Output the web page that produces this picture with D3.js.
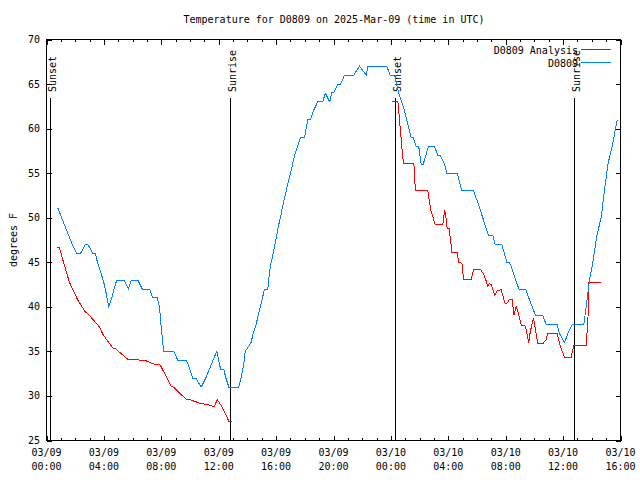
<!DOCTYPE html>
<html>
<head>
<meta charset="utf-8">
<script src="https://cdn.jsdelivr.net/npm/d3@7"></script>
<style>
  html, body { margin: 0; padding: 0; background: #fff; }
  svg { display: block; }
  text { font-family: "DejaVu Sans Mono", "Liberation Mono", monospace; font-size: 10px; fill: #000; }
</style>
</head>
<body>
<svg id="chart" width="640" height="480"></svg>
<script>
// ---- data (hours since 2025-03-09 00:00 UTC) ----
const titleText = "Temperature for D0809 on 2025-Mar-09 (time in UTC)";
const yLabel = "degrees F";
const seriesNames = ["D0809 Analysis", "D0809"];
const yTicks = [25, 30, 35, 40, 45, 50, 55, 60, 65, 70];

const obsHours = [0.72,0.82,1.05,1.3,1.55,1.8,2.1,2.37,2.72,2.88,3.23,3.4,3.55,3.75,3.95,4.1,4.22,4.34,4.55,4.7,4.9,5.39,5.71,5.9,6.36,6.67,7.18,7.41,7.71,7.87,7.98,8.1,8.18,8.87,9.15,9.76,9.98,10.2,10.4,10.78,11.1,11.35,11.6,11.87,12.13,12.35,12.5,12.71,13.4,13.55,13.68,13.78,13.85,14.26,14.4,14.6,14.75,14.9,15.05,15.19,15.42,15.55,15.66,15.8,15.92,16.05,16.15,16.3,16.42,16.55,16.7,16.85,17.0,17.15,17.28,17.5,17.7,17.98,18.21,18.4,18.6,18.9,19.26,19.42,19.74,19.88,20.0,20.3,20.5,20.77,21.41,21.81,22.28,22.39,23.71,23.95,24.25,24.4,24.55,24.75,24.95,25.1,25.25,25.41,25.55,25.76,25.94,26.11,26.25,26.62,27.04,27.27,27.45,27.74,27.9,28.62,28.94,29.76,29.99,30.2,30.4,30.6,30.8,31.1,31.27,31.73,32.08,32.26,32.5,32.7,32.92,33.38,33.61,33.85,34.08,34.59,34.82,35.59,35.75,36.1,36.33,36.63,37.44,37.61,37.84,38.07,38.35,38.65,38.88,39.12,39.42,39.77];
const obsTemps = [51,51,50,49,48,47,46,46,47,47,46,46,45,44,43,42,41,40,41,42,43,43,42,43,43,42,42,41,41,40,38,36,35,35,34,34,33,32,32,31,32,33,34,35,33,33,32,31,31,32,33,34,35,36,37,38,39,40,41,42,42,44,45,46,47,48,49,50,51,52,53,54,55,56,57,58,59,59,61,61,62,63,63,64,63,64,64,65,65,66,66,67,66,67,67,66,66,65,64,63,62,61,60,59,59,58,58,56,56,58,58,57,57,56,55,55,53,53,52,51,50,49,48,48,47,47,45,45,44,43,42,42,41,40,39,39,38,38,37,36,37,38,38,40,43,45,48,50,53,56,58,61];

// analysis series; null marks the daytime gap
const anaHours = [0.72,0.9,1.14,1.6,2.18,2.7,2.85,3.69,3.93,4.62,4.8,5.67,6.13,6.95,7.53,7.92,8.69,8.9,9.73,9.95,10.66,11.24,11.71,11.89,12.17,12.71,12.92,
  18.0,
  24.09,24.49,24.65,24.76,24.88,25.6,25.71,26.57,26.69,26.8,27.08,27.62,27.74,27.8,27.92,28.05,28.2,28.24,28.62,28.73,28.95,29.06,29.6,29.78,30.22,30.45,30.62,30.75,30.85,31.0,31.24,31.38,31.68,31.96,32.08,32.26,32.45,32.57,32.73,32.85,33.08,33.38,33.61,33.71,33.94,34.24,34.59,34.82,34.93,35.59,35.82,36.1,36.56,36.75,37.61,37.73,37.79,38.65];
const anaTemps = [46.67,46.67,45.25,42.74,40.75,39.44,39.3,37.75,36.9,35.39,35.3,34.11,34.1,33.93,33.55,33.48,31.11,30.93,29.62,29.6,29.2,29.01,28.79,29.62,28.94,27.17,27.17,
  null,
  63,63,60.06,58,56.05,56.05,53,53,51.8,50.76,49.26,49.26,50.8,50.5,48.81,48.81,46.94,46.12,46.12,44.95,44.9,43.11,43.11,44.24,44.24,43.7,43.0,42.33,42.6,42.5,41.31,41.76,41.95,40.37,40.37,40.82,40.82,39.06,40.07,39.5,37.94,37.83,35.99,37.19,38.76,35.88,35.88,36.33,37.0,37.0,35.5,34.37,34.37,35.69,35.69,38.5,42.74,42.74];

const sunLabels = ["Sunset", "Sunrise", "Sunset", "Sunrise"];
const sunHours = [0.23, 12.77, 24.32, 36.77];

// ---- drawing ----
const svg = d3.select("#chart");
const start = Date.UTC(2025, 2, 9, 0, 0);
const toDate = h => new Date(start + h * 3600000);

const x = d3.scaleUtc().domain([toDate(0), toDate(40)]).range([46.5, 620.5]);
const y = d3.scaleLinear().domain([25, 70]).range([440.5, 39.5]);

const colors = ["#ff0000", "#0080ff"];

// frame
svg.append("rect")
  .attr("x", x.range()[0]).attr("y", y.range()[1])
  .attr("width", x.range()[1] - x.range()[0]).attr("height", y.range()[0] - y.range()[1])
  .attr("fill", "none").attr("stroke", "#000").attr("shape-rendering", "crispEdges");

// x ticks (major every 4h, minor every 1h), inward on bottom and top
const majorT = d3.utcHour.every(4).range(toDate(0), toDate(40.01));
const minorT = d3.utcHour.every(1).range(toDate(0), toDate(40.01));
const tickG = svg.append("g").attr("stroke", "#000").attr("shape-rendering", "crispEdges");
minorT.forEach(t => {
  const isMajor = t.getUTCHours() % 4 === 0;
  const len = isMajor ? 5 : 2.5;
  const xx = Math.round(x(t)) + 0.5;
  tickG.append("line").attr("x1", xx).attr("x2", xx).attr("y1", y.range()[0]).attr("y2", y.range()[0] - len);
  tickG.append("line").attr("x1", xx).attr("x2", xx).attr("y1", y.range()[1]).attr("y2", y.range()[1] + len);
});
// y ticks inward on left and right
yTicks.forEach(v => {
  const yy = Math.round(y(v)) + 0.5;
  tickG.append("line").attr("x1", x.range()[0]).attr("x2", x.range()[0] + 5).attr("y1", yy).attr("y2", yy);
  tickG.append("line").attr("x1", x.range()[1]).attr("x2", x.range()[1] - 5).attr("y1", yy).attr("y2", yy);
});

// x tick labels
const fmtD = d3.utcFormat("%m/%d"), fmtH = d3.utcFormat("%H:%M");
majorT.forEach(t => {
  const tx = svg.append("text").attr("text-anchor", "middle");
  tx.append("tspan").attr("x", x(t)).attr("y", 456).text(fmtD(t));
  tx.append("tspan").attr("x", x(t)).attr("y", 469.5).text(fmtH(t));
});
// y tick labels
yTicks.forEach(v => {
  svg.append("text").attr("x", 40).attr("y", y(v)).attr("dy", "0.35em")
    .attr("text-anchor", "end").text(v);
});

// title and axis label
svg.append("text").attr("x", 334).attr("y", 23).attr("text-anchor", "middle").text(titleText);
svg.append("text").attr("transform", "translate(17,240) rotate(-90)").attr("text-anchor", "middle").text(yLabel);

// sunrise / sunset markers
sunHours.forEach((h, i) => {
  const xx = Math.round(x(toDate(h))) + 0.5;
  svg.append("line").attr("x1", xx).attr("x2", xx).attr("y1", 98).attr("y2", y.range()[0])
    .attr("stroke", "#000").attr("shape-rendering", "crispEdges");
  svg.append("text").attr("transform", `translate(${xx + 5},92) rotate(-90)`)
    .attr("text-anchor", "start").text(sunLabels[i]);
});

// series lines
const line = d3.line()
  .defined(d => d[1] !== null)
  .x(d => x(toDate(d[0])))
  .y(d => y(d[1]));

const anaData = anaHours.map((h, i) => [h, anaTemps[i]]);
const obsData = obsHours.map((h, i) => [h, obsTemps[i]]);

svg.append("path").datum(anaData).attr("d", line)
  .attr("fill", "none").attr("stroke", colors[0]).attr("stroke-width", 1)
  .attr("shape-rendering", "crispEdges");
svg.append("path").datum(obsData).attr("d", line)
  .attr("fill", "none").attr("stroke", colors[1]).attr("stroke-width", 1)
  .attr("shape-rendering", "crispEdges");

// legend
const legY = [54, 67];
seriesNames.forEach((name, i) => {
  svg.append("text").attr("x", 578).attr("y", legY[i]).attr("text-anchor", "end").text(name);
  svg.append("line").attr("x1", 581).attr("x2", 611)
    .attr("y1", legY[i] - 4.5).attr("y2", legY[i] - 4.5)
    .attr("stroke", colors[i]).attr("shape-rendering", "crispEdges");
});
</script>
</body>
</html>
